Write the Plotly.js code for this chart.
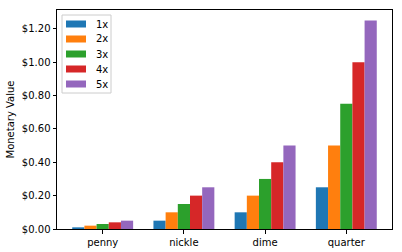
<!DOCTYPE html>
<html><head><meta charset="utf-8">
<script src="https://cdn.plot.ly/plotly-3.0.1.min.js"></script>
<style>html,body{margin:0;padding:0;background:#fff}#c{width:402px;height:252px}</style>
</head><body><div id="c"></div>
<script>
const categories = ['penny', 'nickle', 'dime', 'quarter'];
const seriesNames = ['1x', '2x', '3x', '4x', '5x'];
const s1x = [0.01, 0.05, 0.10, 0.25];
const s2x = [0.02, 0.10, 0.20, 0.50];
const s3x = [0.03, 0.15, 0.30, 0.75];
const s4x = [0.04, 0.20, 0.40, 1.00];
const s5x = [0.05, 0.25, 0.50, 1.25];
const colors = ['#1f77b4', '#ff7f0e', '#2ca02c', '#d62728', '#9467bd'];
const series = [s1x, s2x, s3x, s4x, s5x];
const traces = series.map((v, i) => ({
  type: 'bar', x: categories, y: v, name: seriesNames[i],
  marker: {color: colors[i], line: {width: 0}}
}));

// plot area in pixels
const W = 402, H = 252, L = 57, R = 10, T = 10, B = 23;
const pw = W - L - R, ph = H - T - B;
const px = x => (x - L) / pw;
const py = y => 1 - (y - T) / ph;

// matplotlib-style legend box
const shapes = [{type: 'rect', xref: 'paper', yref: 'paper',
  x0: px(62), x1: px(111), y0: py(93), y1: py(15),
  line: {color: '#cccccc', width: 1}, fillcolor: 'rgba(255,255,255,0.8)', layer: 'above'}];
const annotations = [];
seriesNames.forEach((n, i) => {
  const yc = 24 + i * 15;
  shapes.push({type: 'rect', xref: 'paper', yref: 'paper',
    x0: px(66), x1: px(86), y0: py(yc + 3.5), y1: py(yc - 3.5),
    line: {width: 0}, fillcolor: colors[i], layer: 'above'});
  annotations.push({xref: 'paper', yref: 'paper', x: px(94), y: py(yc),
    xanchor: 'left', yanchor: 'middle', text: n, showarrow: false,
    font: {size: 10, color: '#000'}});
});

const layout = {
  width: W, height: H,
  margin: {l: L, r: R, t: T, b: B},
  barmode: 'group', bargap: 0.25, bargroupgap: 0,
  font: {family: 'DejaVu Sans', size: 10, color: '#000'},
  paper_bgcolor: '#fff', plot_bgcolor: '#fff',
  showlegend: false,
  shapes: shapes, annotations: annotations,
  xaxis: {type: 'category', range: [-0.5625, 3.5625], showgrid: false, zeroline: false,
    showline: true, linecolor: '#000', linewidth: 1, mirror: true,
    ticks: 'outside', ticklen: 3.5, tickcolor: '#000', tickfont: {size: 10}},
  yaxis: {range: [0, 1.3125], dtick: 0.2, tickformat: '$.2f', showgrid: false, zeroline: false,
    showline: true, linecolor: '#000', linewidth: 1, mirror: true,
    ticks: 'outside', ticklen: 3.5, tickcolor: '#000', tickfont: {size: 10},
    title: {text: 'Monetary Value', font: {size: 10}, standoff: 5}}
};
Plotly.newPlot('c', traces, layout, {displayModeBar: false, staticPlot: true});
</script></body></html>
